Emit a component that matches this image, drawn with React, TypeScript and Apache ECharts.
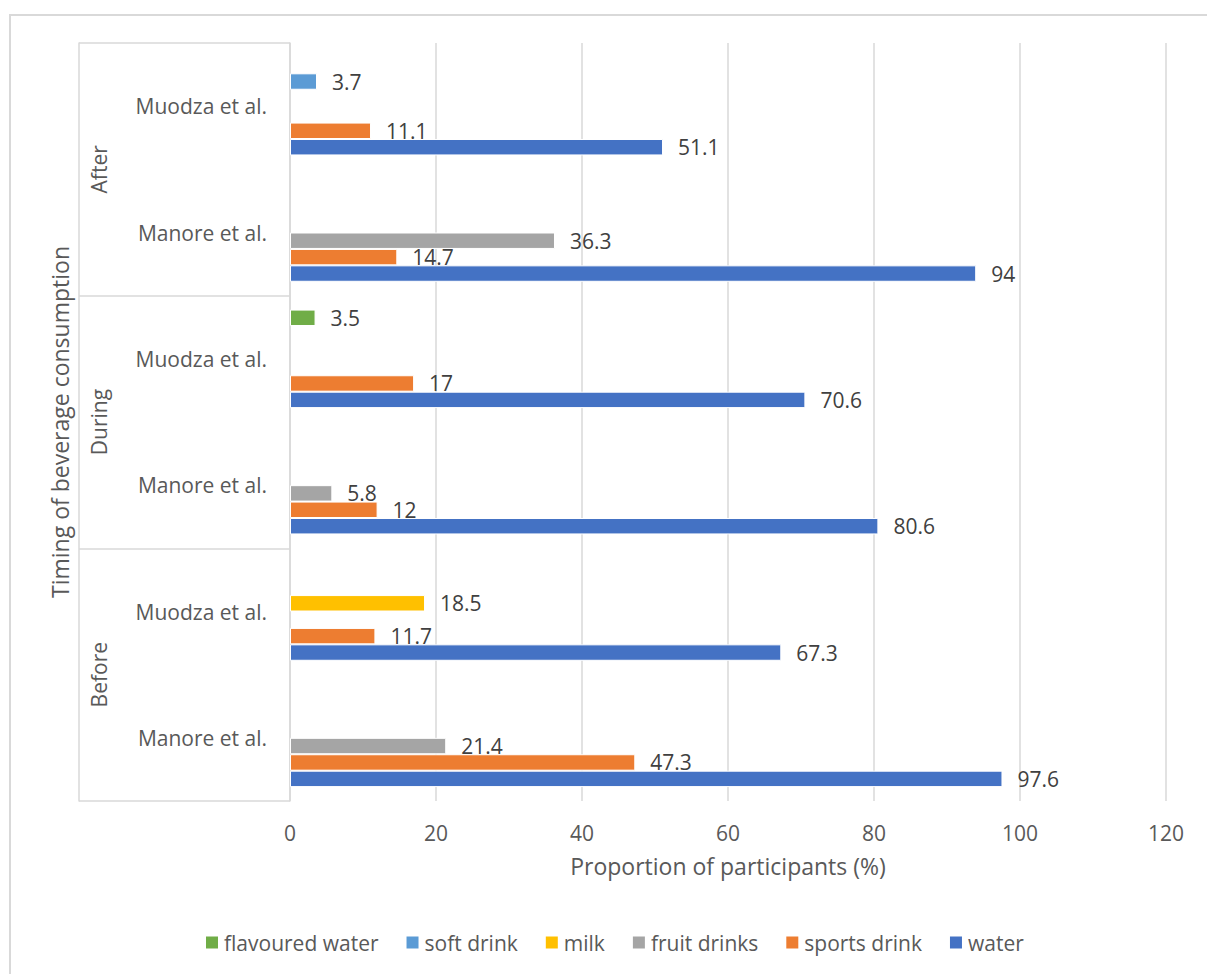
import React, { useEffect, useRef } from "react";
import * as echarts from "echarts";

// Inner categories (bottom to top) and the timing groups they belong to
const studies = ["Manore et al.", "Muodza et al.", "Manore et al.", "Muodza et al.", "Manore et al.", "Muodza et al."];
const studyKeys = ["before-manore", "before-muodza", "during-manore", "during-muodza", "after-manore", "after-muodza"];
const timings = ["Before", "During", "After"];

// Proportion of participants (%) per beverage, same order as studyKeys
const flavouredWater = [null, null, null, 3.5, null, null];
const softDrink = [null, null, null, null, null, 3.7];
const milk = [null, 18.5, null, null, null, null];
const fruitDrinks = [21.4, null, 5.8, null, 36.3, null];
const sportsDrink = [47.3, 11.7, 12, 17, 14.7, 11.1];
const water = [97.6, 67.3, 80.6, 70.6, 94, 51.1];

const xTicks = { min: 0, max: 120, interval: 20 };

const FONT = "'Open Sans', 'Noto Sans', sans-serif";
const GREY_TEXT = "#595959";
const LINE = "#d9d9d9";

const seriesDefs = [
  { name: "flavoured water", data: flavouredWater, color: "#70AD47" },
  { name: "soft drink", data: softDrink, color: "#5B9BD5" },
  { name: "milk", data: milk, color: "#FFC000" },
  { name: "fruit drinks", data: fruitDrinks, color: "#A5A5A5" },
  { name: "sports drink", data: sportsDrink, color: "#ED7D31" },
  { name: "water", data: water, color: "#4472C4" },
];

export default function App() {
  const ref = useRef<HTMLDivElement>(null);

  useEffect(() => {
    if (!ref.current) return;
    const chart = echarts.init(ref.current, null, { renderer: "svg" });

    const studyName: Record<string, string> = {};
    studyKeys.forEach((k, i) => (studyName[k] = studies[i]));

    chart.setOption({
      animation: false,
      textStyle: { fontFamily: FONT },
      graphic: [
        {
          type: "rect",
          z: -10,
          shape: { x: 10, y: 15, width: 1400, height: 1200 },
          style: { fill: "none", stroke: LINE, lineWidth: 2 },
          silent: true,
        },
      ],
      grid: {
        left: 290,
        right: 41,
        top: 43,
        bottom: 173,
        containLabel: false,
        outerBoundsMode: "none",
      },
      legend: {
        left: 204,
        top: 932,
        padding: 0,
        icon: "rect",
        itemWidth: 14,
        itemHeight: 14,
        itemGap: 26,
        textStyle: { fontSize: 21, color: GREY_TEXT, fontFamily: FONT },
        data: seriesDefs.map((s) => s.name),
      },
      xAxis: {
        type: "value",
        min: xTicks.min,
        max: xTicks.max,
        interval: xTicks.interval,
        axisLine: { show: false },
        axisTick: { show: false },
        splitLine: { show: true, lineStyle: { color: LINE, width: 1.5 } },
        axisLabel: { fontSize: 21, color: GREY_TEXT, margin: 21, fontFamily: FONT },
        name: "Proportion of participants (%)",
        nameLocation: "middle",
        nameGap: 53,
        nameTextStyle: { fontSize: 23, color: GREY_TEXT, fontFamily: FONT },
      },
      yAxis: [
        {
          type: "category",
          position: "left",
          data: studyKeys,
          axisLine: { show: true, lineStyle: { color: LINE, width: 1.5 } },
          axisTick: { show: false },
          axisLabel: {
            fontSize: 21,
            color: GREY_TEXT,
            margin: 23,
            fontFamily: FONT,
            formatter: (v: string) => studyName[v],
          },
        },
        {
          type: "category",
          position: "left",
          data: timings,
          offset: 211,
          axisLine: { show: true, lineStyle: { color: LINE, width: 1.5 } },
          axisTick: { show: true, inside: true, length: 211, lineStyle: { color: LINE, width: 1.5 } },
          axisLabel: {
            inside: true,
            rotate: 90,
            margin: 9,
            fontSize: 21,
            color: GREY_TEXT,
            fontFamily: FONT,
          },
          name: "Timing of beverage consumption",
          nameLocation: "middle",
          nameGap: 5,
          nameTextStyle: { fontSize: 23, color: GREY_TEXT, fontFamily: FONT },
        },
      ],
      series: seriesDefs.map((s) => ({
        name: s.name,
        type: "bar",
        yAxisIndex: 0,
        data: s.data,
        barGap: "0%",
        barCategoryGap: "22%",
        itemStyle: { color: s.color, borderColor: "#ffffff", borderWidth: 1 },
        label: {
          show: true,
          position: "right",
          distance: 15,
          fontSize: 21,
          color: "#404040",
          fontFamily: FONT,
        },
      })),
    });

    return () => chart.dispose();
  }, []);

  return (
    <div
      ref={ref}
      style={{ position: "fixed", left: 0, top: 0, width: 1207, height: 974, background: "#ffffff" }}
    />
  );
}
